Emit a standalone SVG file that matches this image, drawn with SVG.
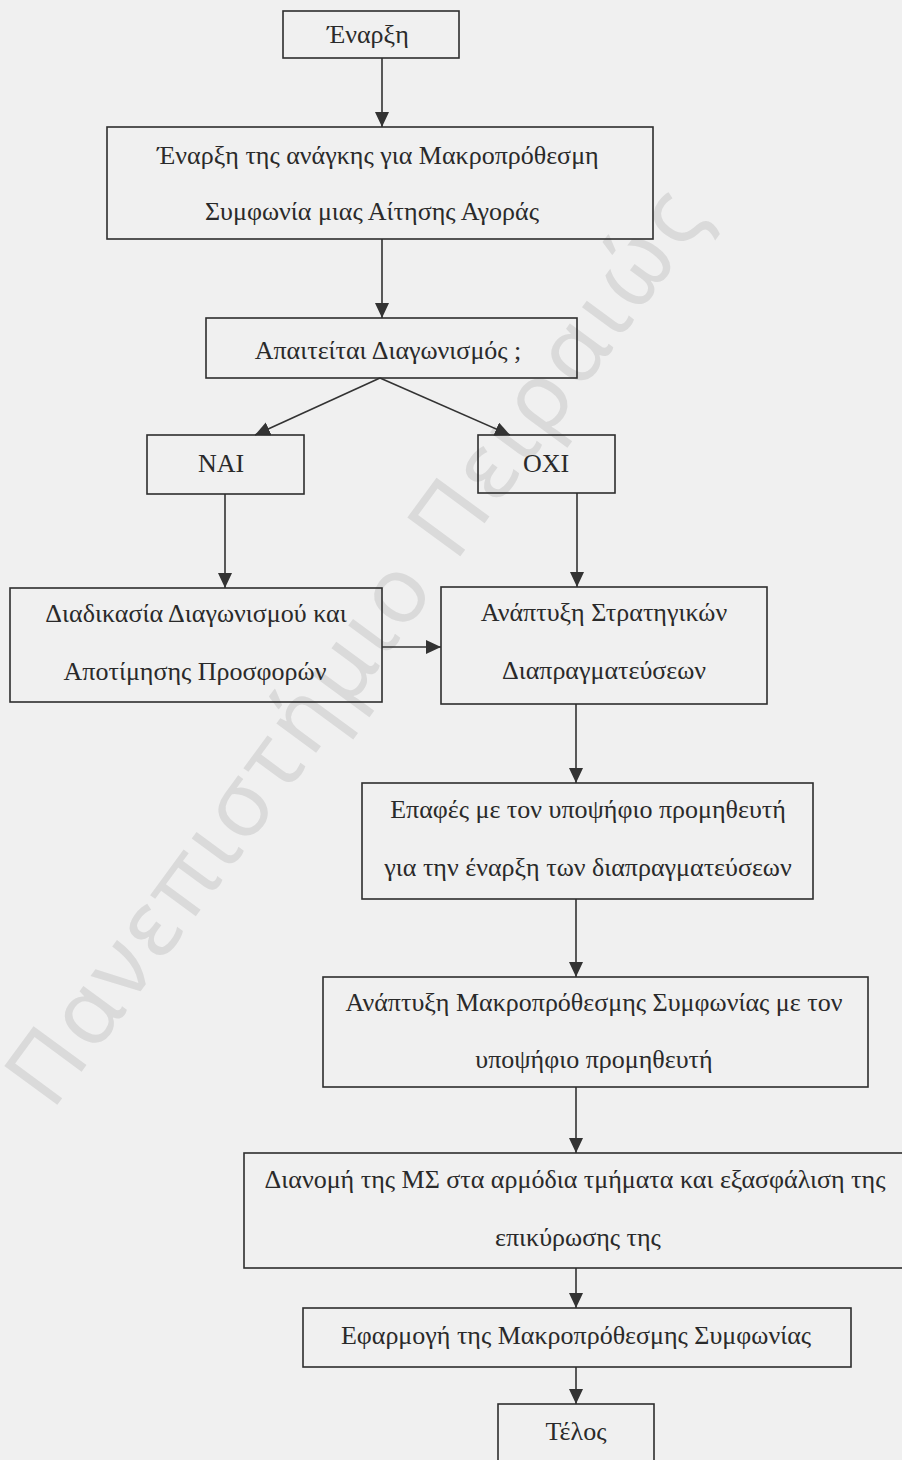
<svg xmlns="http://www.w3.org/2000/svg" width="902" height="1460" viewBox="0 0 902 1460">
  <style>
    .box { fill: none; stroke: #2e2e2e; stroke-width: 1.6; }
    .lbl { font-family: "Liberation Serif", "Times New Roman", serif; font-size: 26px; fill: #2a2a2a; text-anchor: middle; }
    .edge { stroke: #333; stroke-width: 1.6; fill: none; marker-end: url(#head); }
    .wm { font-family: "Noto Sans", "DejaVu Sans", sans-serif; font-size: 92px; fill: #dadada; }
  </style>
  <defs>
    <marker id="head" markerUnits="userSpaceOnUse" markerWidth="16" markerHeight="16" refX="15" refY="7" orient="auto">
      <path d="M0,0 L15,7 L0,14 z" fill="#333"/>
    </marker>
  </defs>

  <!-- paper -->
  <rect width="902" height="1460" fill="#f0f0f0"/>

  <!-- faint diagonal stamp -->
  <text class="wm" x="0" y="0" textLength="1110" transform="translate(52,1112) rotate(-53.7)">Πανεπιστήμιο Πειραιώς</text>

  <g id="connectors">
    <line class="edge" x1="382" y1="58" x2="382" y2="127"/>
    <line class="edge" x1="382" y1="239" x2="382" y2="318"/>
    <line class="edge" x1="380" y1="378" x2="255" y2="435"/>
    <line class="edge" x1="380" y1="378" x2="510" y2="435"/>
    <line class="edge" x1="225" y1="494" x2="225" y2="588"/>
    <line class="edge" x1="577" y1="493" x2="577" y2="587"/>
    <line class="edge" x1="382" y1="647" x2="441" y2="647"/>
    <line class="edge" x1="576" y1="704" x2="576" y2="783"/>
    <line class="edge" x1="576" y1="899" x2="576" y2="977"/>
    <line class="edge" x1="576" y1="1087" x2="576" y2="1153"/>
    <line class="edge" x1="576" y1="1268" x2="576" y2="1308"/>
    <line class="edge" x1="576" y1="1367" x2="576" y2="1404"/>
  </g>

  <g id="start">
    <rect class="box" x="283" y="11" width="176" height="47"/>
    <text class="lbl" x="368" y="43">Έναρξη</text>
  </g>

  <g id="need">
    <rect class="box" x="107" y="127" width="546" height="112"/>
    <text class="lbl" x="378" y="164">Έναρξη της ανάγκης για Μακροπρόθεσμη</text>
    <text class="lbl" x="372" y="220">Συμφωνία μιας Αίτησης Αγοράς</text>
  </g>

  <g id="tender-question">
    <rect class="box" x="206" y="318" width="371" height="60"/>
    <text class="lbl" x="388" y="359">Απαιτείται Διαγωνισμός ;</text>
  </g>

  <g id="yes">
    <rect class="box" x="147" y="435" width="157" height="59"/>
    <text class="lbl" x="221" y="472">ΝΑΙ</text>
  </g>

  <g id="no">
    <rect class="box" x="478" y="435" width="137" height="58"/>
    <text class="lbl" x="546" y="472">ΟΧΙ</text>
  </g>

  <g id="tender-process">
    <rect class="box" x="10" y="588" width="372" height="114"/>
    <text class="lbl" x="196" y="622">Διαδικασία Διαγωνισμού και</text>
    <text class="lbl" x="195" y="680">Αποτίμησης Προσφορών</text>
  </g>

  <g id="strategy">
    <rect class="box" x="441" y="587" width="326" height="117"/>
    <text class="lbl" x="604" y="621">Ανάπτυξη Στρατηγικών</text>
    <text class="lbl" x="604" y="679">Διαπραγματεύσεων</text>
  </g>

  <g id="contacts">
    <rect class="box" x="362" y="783" width="451" height="116"/>
    <text class="lbl" x="588" y="818">Επαφές με τον υποψήφιο προμηθευτή</text>
    <text class="lbl" x="588" y="876">για την έναρξη των διαπραγματεύσεων</text>
  </g>

  <g id="agreement">
    <rect class="box" x="323" y="977" width="545" height="110"/>
    <text class="lbl" x="594" y="1011">Ανάπτυξη Μακροπρόθεσμης Συμφωνίας με τον</text>
    <text class="lbl" x="594" y="1068">υποψήφιο προμηθευτή</text>
  </g>

  <g id="distribution">
    <rect class="box" x="244" y="1153" width="670" height="115"/>
    <text class="lbl" x="575" y="1188">Διανομή της ΜΣ στα αρμόδια τμήματα και εξασφάλιση της</text>
    <text class="lbl" x="578" y="1246">επικύρωσης της</text>
  </g>

  <g id="apply">
    <rect class="box" x="303" y="1308" width="548" height="59"/>
    <text class="lbl" x="576" y="1344">Εφαρμογή της Μακροπρόθεσμης Συμφωνίας</text>
  </g>

  <g id="end">
    <rect class="box" x="498" y="1404" width="156" height="70"/>
    <text class="lbl" x="576" y="1440">Τέλος</text>
  </g>
</svg>
